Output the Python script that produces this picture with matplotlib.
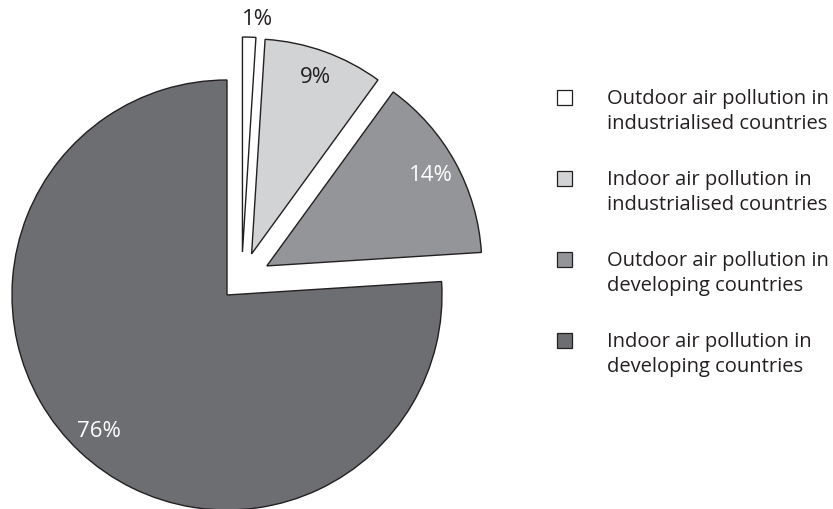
import matplotlib
matplotlib.use("Agg")
import matplotlib.pyplot as plt
import numpy as np
from matplotlib.patches import Rectangle

plt.rcParams['font.family'] = ['Open Sans', 'DejaVu Sans']

# -----------------------------
# data
# -----------------------------
categories = [
    "Outdoor air pollution in\nindustrialised countries",
    "Indoor air pollution in\nindustrialised countries",
    "Outdoor air pollution in\ndeveloping countries",
    "Indoor air pollution in\ndeveloping countries",
]
shares = [1, 9, 14, 76]

# -----------------------------
# style
# -----------------------------
colors = ["#ffffff", "#d1d3d4", "#939598", "#6d6e71"]
label_colors = ["#231f20", "#231f20", "#ffffff", "#ffffff"]
explode = [46, 49, 50, 0]               # pixels (axes are in pixel units)
nudge = [(14, -3), (8, -5), (-4, 5), (0, 0)]   # the original pulls slices a bit off-radial

W, H = 833, 509
fig = plt.figure(figsize=(W / 100, H / 100), dpi=100)
ax = fig.add_axes([0, 0, 1, 1])

wedges, texts, autotexts = ax.pie(
    shares,
    colors=colors,
    explode=explode,
    startangle=90,
    counterclock=False,
    center=(227, H - 295),
    radius=215,
    autopct="%d%%",
    pctdistance=0.87,
    wedgeprops=dict(edgecolor="#231f20", linewidth=1.0),
    textprops=dict(fontsize=16),
)

for w, t, c, (dx, dy) in zip(wedges, autotexts, label_colors, nudge):
    t.set_color(c)
    cx, cy = w.center
    w.set_center((cx + dx, cy + dy))
    tx, ty = t.get_position()
    t.set_position((tx + dx, ty + dy))

# smallest slice: label goes outside, above the wedge
w = wedges[0]
theta = np.deg2rad((w.theta1 + w.theta2) / 2)
autotexts[0].set_position((w.center[0] + 1.08 * w.r * np.cos(theta) + 8,
                           w.center[1] + 1.08 * w.r * np.sin(theta)))

ax.set_xlim(0, W)
ax.set_ylim(0, H)
ax.set_aspect("equal")
ax.axis("off")

# -----------------------------
# legend (square lined up with first text line)
# -----------------------------
for i, (lab, col) in enumerate(zip(categories, colors)):
    yc = H - 97 - i * 81
    ax.add_patch(Rectangle((557, yc - 7.5), 15, 15, facecolor=col,
                           edgecolor="#231f20", linewidth=0.9))
    ax.text(607, yc - 32, lab, fontsize=14.5, color="#231f20",
            va="baseline", ha="left", linespacing=1.32)

fig.savefig("out.png", dpi=100)
